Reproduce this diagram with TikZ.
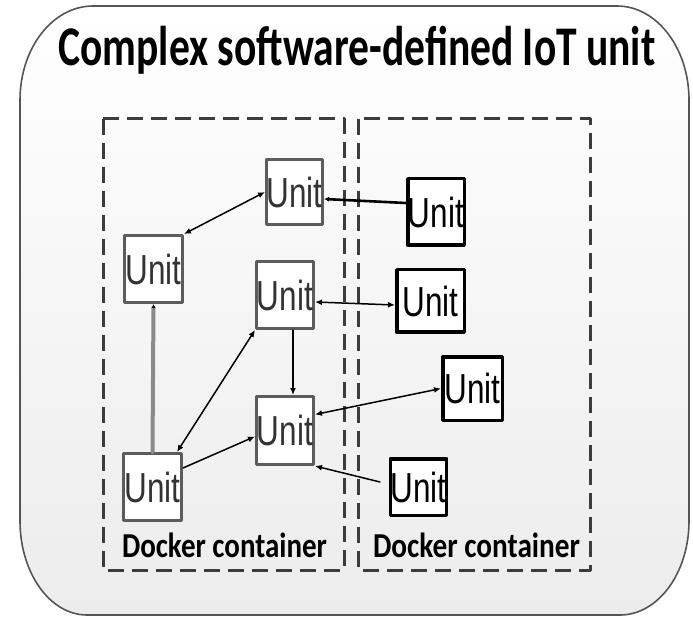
\documentclass[tikz,border=0pt]{standalone}
\usepackage{fontspec}
\setmainfont{Liberation Sans}
\newfontfamily\calfont{Carlito}
\usepackage{graphicx}
\usepackage{pgf,tikz}
\usetikzlibrary{arrows.meta}
\definecolor{edgegray}{HTML}{555555}
\definecolor{shadegray}{HTML}{ECECEC}
\definecolor{dashgray}{HTML}{3C3C3C}
\definecolor{boxgray}{HTML}{5C5C5C}
\definecolor{thickgray}{HTML}{8A8A8A}
\newcommand{\sqz}[1]{\scalebox{0.75}[1]{#1}}

\begin{document}
\begin{tikzpicture}[line cap=round,line join=round,>={Latex[length=7pt,width=6pt]},x=1pt,y=-1pt,
  unitbox/.style={draw=boxgray,line width=3pt,fill=white,inner sep=0pt,minimum width=57pt,minimum height=67pt,font=\fontsize{42}{42}\selectfont,text=black!80},
  outbox/.style={unitbox,draw=black,line width=3.5pt,text=black},
  link/.style={line width=1.5pt},
  docker/.style={draw=dashgray,line width=3pt,dash pattern=on 16pt off 8pt,line cap=butt},
  dockerlabel/.style={font=\calfont\bfseries\fontsize{35}{35}\selectfont,anchor=base}]
\useasboundingbox (0,0) rectangle (693,617);
\draw[line width=1.6pt,draw=edgegray,top color=white,bottom color=shadegray] (93,6) -- (617,6) arc[start angle=-90,end angle=0,x radius=72,y radius=94] -- (689,521) arc[start angle=0,end angle=90,x radius=69,y radius=94] -- (87,615) arc[start angle=90,end angle=180,x radius=67,y radius=94] -- (20,100) arc[start angle=180,end angle=270,x radius=73,y radius=94] -- cycle;
\node[font=\calfont\bfseries\fontsize{56}{56}\selectfont,anchor=base] (title) at (357,66) {\resizebox{597pt}{\height}{Complex software-defined IoT unit}};
\draw[docker] (103,119) rectangle (344,570);
\draw[docker] (358,119) rectangle (590,570);
\node[dockerlabel] (leftlabel) at (224.5,557) {\resizebox{205pt}{\height}{Docker container}};
\node[dockerlabel] (rightlabel) at (476.5,557) {\resizebox{207pt}{\height}{Docker container}};
\node[unitbox,minimum width=54pt,minimum height=65pt] (u1) at (294.5,192) {\sqz{Unit}};
\node[unitbox,minimum width=58pt] (u2) at (153.5,269) {\sqz{Unit}};
\node[unitbox] (u3) at (285,295) {\sqz{Unit}};
\node[unitbox,minimum height=68pt] (u4) at (285,430.5) {\sqz{Unit}};
\node[unitbox,minimum width=58pt] (u5) at (152.5,487) {\sqz{Unit}};
\node[outbox,minimum width=56.5pt,minimum height=66.5pt] (r1) at (436,212) {\sqz{Unit}};
\node[outbox,minimum width=67.5pt,minimum height=62.5pt] (r2) at (430.5,301) {\sqz{Unit}};
\node[outbox,minimum width=59.5pt,minimum height=63.5pt] (r3) at (472.5,388.5) {\sqz{Unit}};
\node[outbox,minimum width=53.5pt,minimum height=56.5pt] (r4) at (418.5,487) {\sqz{Unit}};
\coordinate (r4tail) at (380,482);
\draw[link,<->] (u2.north east) -- (u1.west);
\draw[line width=2.6pt,-{Latex[length=5pt,width=5pt]}] ([yshift=9pt]r1.west) -- ([yshift=-7pt]u1.east);
\draw[link,<->] ([yshift=-7pt]u3.east) -- ([yshift=-4pt]r2.west);
\draw[link,->] ([xshift=8pt]u3.south) -- ([xshift=8pt]u4.north);
\draw[line width=4pt,draw=thickgray,-{Latex[black,length=4pt,width=4pt]}] (u5.north) -- (u2.south);
\draw[link,<->] (u3.south west) -- ([xshift=-6pt]u5.north east);
\draw[link,->] ([yshift=19pt]u5.east) -- ([yshift=-6pt]u4.west);
\draw[link,<->] ([yshift=16pt]u4.east) -- (r3.west);
\draw[link,->] (r4tail) -- (u4.south east);
\end{tikzpicture}
\end{document}
